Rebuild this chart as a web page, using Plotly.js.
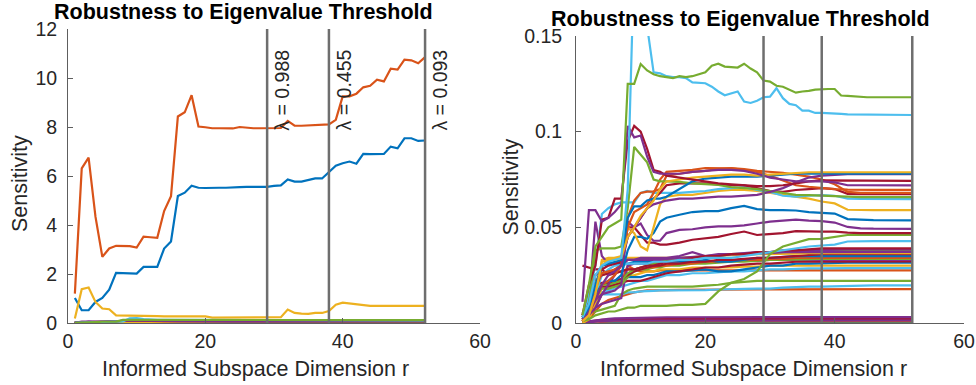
<!DOCTYPE html>
<html>
<head>
<meta charset="utf-8">
<script src="https://cdn.plot.ly/plotly-3.0.1.min.js"></script>
<style>html,body{margin:0;padding:0;background:#fff;}#chart{width:976px;height:385px;}</style>
</head>
<body>
<div id="chart"></div>
<script>
// ---------------- DATA ----------------
const chartTitle = "Robustness to Eigenvalue Threshold";
const xLabel = "Informed Subspace Dimension r";
const yLabel = "Sensitivity";
const thresholds = [29, 38, 52];
const lambdaLabels = ["λ = 0.988", "λ = 0.455", "λ = 0.093"];

// full grid of subspace dimensions
const r = [1,2,3,4,5,6,7,8,9,10,11,12,13,14,15,16,17,18,19,20,21,22,23,24,25,26,27,28,29,30,31,32,33,34,35,36,37,38,39,40,41,42,43,44,45,46,47,48,49,50,51,52];
// sparse grid used for the many small sensitivities
const rs = [1,2,3,4,5,6,7,8,9,10,11,12,13,14,16,18,20,22,24,26,28,30,32,34,36,38,40,42,44,46,52];

// large sensitivities (full grid)
const bigBlue = [1.02,0.52,0.52,0.86,1.02,1.36,2.05,2.05,2.05,2.02, 2.29,2.29,2.29,3.04,3.33,5.18,5.32,5.60,5.52,5.51, 5.50,5.52,5.52,5.52,5.55,5.56,5.56,5.56,5.56,5.60, 5.62,5.86,5.77,5.77,5.84,5.90,5.90,6.18,6.42,6.52, 6.59,6.50,6.90,6.89,6.90,6.90,7.20,7.13,7.54,7.54, 7.43,7.45];
const bigOrange = [1.20,6.31,6.75,4.34,2.70,3.04,3.15,3.15,3.14,3.08, 3.52,3.50,3.48,4.57,5.18,8.43,8.60,9.30,8.02,7.99, 7.95,7.95,7.94,7.94,8.00,7.96,7.95,7.95,7.95,7.95, 7.96,8.25,8.05,8.05,8.06,8.07,8.11,8.11,8.29,9.25, 9.25,9.36,9.62,9.68,9.93,9.86,10.38,10.34,10.75,10.72, 10.60,10.85];
const bigYellow = [0.18,1.38,1.45,0.86,0.59,0.56,0.31,0.31,0.30,0.30, 0.29,0.29,0.28,0.27,0.27,0.27,0.27,0.26,0.27,0.27, 0.22,0.22,0.22,0.22,0.23,0.24,0.24,0.25,0.25,0.24, 0.24,0.55,0.41,0.38,0.37,0.41,0.41,0.49,0.75,0.83, 0.79,0.76,0.72,0.70,0.70,0.70,0.71,0.71,0.70,0.70, 0.70,0.70];
const topGreen = [0.004,0.020,0.040,0.045,0.050,0.052,0.054,0.125,0.125,0.1354, 0.132,0.130,0.129,0.1285,0.128,0.129,0.1285,0.129,0.130,0.131, 0.1345,0.1355,0.134,0.1337,0.1335,0.1355,0.133,0.131,0.1267,0.1262, 0.124,0.1235,0.122,0.1204,0.121,0.1213,0.122,0.1223,0.1223,0.1223, 0.1189,0.1187,0.1184,0.1182,0.118,0.118,0.118,0.118,0.118,0.118, 0.118,0.118];
const topCyan = [0.003,0.010,0.025,0.030,0.032,0.033,0.034,0.070,0.190,0.200, 0.155,0.131,0.1305,0.129,0.1285,0.1285,0.128,0.1258,0.1255,0.1253, 0.1235,0.121,0.119,0.120,0.121,0.1157,0.115,0.1162,0.118,0.1183, 0.1227,0.1175,0.1145,0.1138,0.111,0.111,0.1098,0.1098,0.1097,0.1095, 0.1093,0.109,0.109,0.1088,0.1088,0.1088,0.1088,0.1088,0.1088,0.1087, 0.1087,0.1087];

// small sensitivities (sparse grid rs)
const pA = [0.011,0.059,0.059,0.053,0.055,0.058,0.062,0.103,0.097,0.098,0.087,0.079,0.078,0.078, 0.078,0.079,0.0795,0.080,0.080,0.0795,0.078,0.076,0.075,0.074,0.074,0.074,0.0735,0.072,0.072,0.072,0.0719];
const rA = [0.004,0.020,0.030,0.054,0.055,0.065,0.065,0.095,0.103,0.100,0.091,0.080,0.079,0.077, 0.076,0.075,0.074,0.073,0.0725,0.072,0.0715,0.0715,0.072,0.073,0.074,0.0745,0.0745,0.0743,0.0743,0.0743,0.0743];
const gB = [0.003,0.010,0.038,0.039,0.039,0.039,0.040,0.060,0.092,0.088,0.084,0.075,0.074,0.074, 0.0738,0.073,0.0725,0.0722,0.071,0.0705,0.070,0.069,0.068,0.067,0.0668,0.0665,0.0665,0.066,0.0658,0.0658,0.0658];
const cB = [0.002,0.015,0.030,0.057,0.060,0.062,0.063,0.063,0.063,0.068,0.069,0.068,0.068,0.068, 0.068,0.0685,0.069,0.070,0.0705,0.071,0.0695,0.0685,0.0665,0.066,0.0665,0.0668,0.0665,0.065,0.0648,0.0647,0.0647];
const oA = [0.001,0.005,0.012,0.020,0.022,0.025,0.030,0.055,0.064,0.068,0.0687,0.0688,0.070,0.077, 0.078,0.079,0.0795,0.0805,0.081,0.0805,0.0795,0.079,0.0785,0.0775,0.0765,0.075,0.0725,0.0685,0.068,0.068,0.068];
const oB = [0.002,0.008,0.018,0.026,0.027,0.028,0.030,0.050,0.058,0.060,0.062,0.068,0.075,0.079, 0.0795,0.080,0.081,0.081,0.0808,0.080,0.079,0.077,0.0745,0.072,0.0712,0.0705,0.070,0.0697,0.0696,0.0696,0.0696];
const yA = [0.001,0.004,0.015,0.032,0.033,0.033,0.034,0.045,0.050,0.056,0.060,0.064,0.070,0.074, 0.075,0.076,0.0765,0.077,0.0775,0.0775,0.077,0.0775,0.078,0.0785,0.0788,0.0788,0.0788,0.079,0.079,0.0788,0.0788];
const bT = [0.003,0.008,0.020,0.030,0.031,0.032,0.033,0.055,0.061,0.061,0.064,0.065,0.065,0.066, 0.070,0.074,0.0755,0.076,0.0765,0.0765,0.0765,0.077,0.0775,0.078,0.078,0.078,0.078,0.078,0.078,0.078,0.078];
const rB = [0.001,0.010,0.025,0.028,0.030,0.031,0.032,0.045,0.050,0.055,0.060,0.065,0.068,0.072, 0.073,0.073,0.073,0.0725,0.072,0.072,0.0705,0.069,0.0685,0.0695,0.070,0.0705,0.070,0.0675,0.0673,0.0673,0.0673];
const pD = [0.002,0.006,0.012,0.020,0.025,0.027,0.030,0.045,0.050,0.055,0.060,0.062,0.063,0.064, 0.065,0.065,0.0655,0.066,0.066,0.0665,0.067,0.0685,0.0705,0.0735,0.076,0.077,0.0775,0.0778,0.0778,0.0778,0.0778];
const yB = [0.001,0.005,0.020,0.030,0.033,0.034,0.035,0.050,0.047,0.040,0.038,0.050,0.062,0.066, 0.067,0.067,0.068,0.069,0.0695,0.0695,0.069,0.068,0.067,0.066,0.065,0.0635,0.0625,0.0592,0.059,0.059,0.059];
const bB = [0.002,0.005,0.015,0.020,0.022,0.022,0.025,0.038,0.045,0.045,0.044,0.047,0.053,0.055, 0.0566,0.058,0.0585,0.0585,0.060,0.0612,0.0595,0.059,0.059,0.0588,0.058,0.0575,0.0572,0.0543,0.054,0.0538,0.0536];
const pC = [0.003,0.008,0.012,0.015,0.016,0.017,0.020,0.053,0.050,0.052,0.046,0.043,0.043,0.047, 0.0487,0.049,0.050,0.0505,0.0505,0.051,0.052,0.053,0.0535,0.054,0.0535,0.0532,0.0525,0.0502,0.0495,0.0493,0.0492];
const rC = [0.004,0.015,0.022,0.025,0.026,0.028,0.030,0.050,0.050,0.046,0.042,0.042,0.041,0.041, 0.042,0.0435,0.0444,0.045,0.0465,0.0478,0.046,0.0465,0.047,0.048,0.0478,0.0478,0.0478,0.0472,0.047,0.047,0.047];
const gD = [0.001,0.002,0.004,0.005,0.006,0.006,0.007,0.008,0.008,0.009,0.009,0.009,0.009,0.009, 0.0095,0.0095,0.010,0.0165,0.021,0.023,0.027,0.036,0.040,0.042,0.0438,0.044,0.045,0.046,0.046,0.046,0.046];
const cC = [0.002,0.005,0.015,0.025,0.028,0.030,0.030,0.031,0.031,0.031,0.031,0.032,0.032,0.032, 0.033,0.033,0.034,0.034,0.034,0.035,0.036,0.037,0.038,0.039,0.040,0.0405,0.041,0.0426,0.0428,0.0428,0.0428];
const k1 = [0.030,0.029,0.028,0.028,0.025,0.026,0.027,0.028,0.028,0.029,0.030,0.030,0.031,0.032, 0.033,0.034,0.035,0.035,0.036,0.036,0.037,0.037,0.038,0.038,0.0385,0.039,0.039,0.039,0.039,0.039,0.039];
const k2 = [0.001,0.004,0.008,0.015,0.020,0.025,0.030,0.033,0.033,0.034,0.034,0.034,0.034,0.034, 0.035,0.037,0.035,0.036,0.036,0.0365,0.037,0.037,0.0375,0.038,0.038,0.0382,0.0385,0.0385,0.0385,0.0385,0.0385];
const k3 = [0.005,0.010,0.053,0.035,0.031,0.031,0.032,0.033,0.033,0.033,0.033,0.033,0.033,0.0335, 0.034,0.0345,0.035,0.0355,0.036,0.036,0.0365,0.0365,0.037,0.037,0.037,0.037,0.0372,0.0372,0.0372,0.0372,0.0372];
const k4 = [0.002,0.006,0.018,0.020,0.020,0.021,0.022,0.026,0.028,0.029,0.030,0.031,0.032,0.033, 0.034,0.034,0.035,0.035,0.036,0.0362,0.0365,0.037,0.037,0.0375,0.0378,0.038,0.038,0.038,0.038,0.038,0.038];
const k5 = [0.000,0.002,0.010,0.033,0.034,0.034,0.034,0.034,0.034,0.034,0.034,0.034,0.034,0.034, 0.034,0.0345,0.035,0.0352,0.0355,0.0355,0.036,0.036,0.036,0.0362,0.0365,0.0365,0.0365,0.0365,0.0365,0.0365,0.0365];
const k6 = [0.003,0.012,0.020,0.021,0.021,0.022,0.023,0.025,0.027,0.028,0.029,0.030,0.030,0.031, 0.031,0.032,0.032,0.033,0.033,0.0335,0.034,0.034,0.0345,0.035,0.0355,0.036,0.036,0.036,0.036,0.036,0.036];
const k7 = [0.001,0.003,0.010,0.030,0.031,0.031,0.031,0.031,0.032,0.032,0.032,0.032,0.032,0.032, 0.032,0.032,0.033,0.032,0.032,0.033,0.034,0.034,0.0345,0.035,0.035,0.035,0.035,0.035,0.035,0.035,0.035];
const k8 = [0.002,0.008,0.020,0.025,0.026,0.026,0.027,0.028,0.028,0.029,0.029,0.029,0.030,0.030, 0.031,0.031,0.032,0.032,0.0325,0.033,0.033,0.0335,0.0335,0.034,0.034,0.034,0.034,0.034,0.034,0.034,0.034];
const k9 = [0.005,0.008,0.015,0.018,0.018,0.019,0.020,0.024,0.027,0.028,0.028,0.029,0.029,0.030, 0.030,0.031,0.031,0.0315,0.032,0.032,0.0325,0.033,0.033,0.0333,0.0335,0.0335,0.0335,0.0335,0.0335,0.0335,0.0335];
const k10 = [0.002,0.004,0.008,0.010,0.011,0.012,0.013,0.030,0.031,0.031,0.031,0.031,0.032,0.032, 0.032,0.032,0.032,0.0322,0.0325,0.0325,0.0325,0.033,0.033,0.033,0.033,0.033,0.033,0.033,0.033,0.033,0.033];
const k11 = [0.004,0.009,0.015,0.019,0.019,0.020,0.021,0.022,0.022,0.022,0.023,0.024,0.025,0.026, 0.027,0.028,0.029,0.029,0.030,0.0305,0.031,0.031,0.0315,0.032,0.032,0.032,0.0322,0.0322,0.0322,0.0322,0.0322];
const k12 = [0.001,0.004,0.012,0.020,0.022,0.022,0.023,0.024,0.024,0.024,0.025,0.025,0.026,0.027, 0.027,0.0275,0.028,0.027,0.027,0.028,0.029,0.030,0.030,0.031,0.031,0.0312,0.0315,0.0315,0.0315,0.0315,0.0315];
const k13 = [0.001,0.003,0.010,0.018,0.020,0.021,0.022,0.024,0.025,0.026,0.027,0.027,0.028,0.028, 0.028,0.029,0.029,0.029,0.029,0.0295,0.0295,0.030,0.030,0.030,0.030,0.030,0.030,0.030,0.030,0.030,0.030];
const k14 = [0.002,0.006,0.012,0.016,0.017,0.018,0.019,0.020,0.021,0.022,0.022,0.023,0.024,0.025, 0.025,0.026,0.026,0.0265,0.027,0.027,0.0275,0.028,0.028,0.0283,0.0285,0.0285,0.0287,0.0287,0.0287,0.0287,0.0287];
const k15 = [0.000,0.002,0.008,0.015,0.018,0.020,0.021,0.030,0.028,0.027,0.027,0.027,0.0275,0.0275, 0.0275,0.0275,0.0275,0.0275,0.0275,0.0275,0.0275,0.0275,0.0275,0.0275,0.0275,0.0275,0.0275,0.0275,0.0275,0.0275,0.0275];
const gE = [0.002,0.004,0.006,0.007,0.008,0.009,0.015,0.017,0.018,0.0185,0.019,0.019,0.019,0.019, 0.019,0.019,0.0195,0.020,0.021,0.0215,0.022,0.022,0.022,0.022,0.022,0.022,0.022,0.022,0.022,0.022,0.022];
const cD = [0.001,0.003,0.008,0.015,0.015,0.015,0.015,0.016,0.016,0.0165,0.0165,0.0168,0.017,0.017, 0.017,0.0172,0.0172,0.0175,0.0175,0.0178,0.018,0.018,0.0185,0.0188,0.019,0.019,0.0192,0.0195,0.0197,0.0197,0.0197];
const oD = [0.000,0.002,0.006,0.010,0.012,0.013,0.014,0.015,0.016,0.0165,0.017,0.017,0.0172,0.0172, 0.0173,0.0174,0.0175,0.0175,0.0175,0.0175,0.0176,0.0176,0.0176,0.0177,0.0177,0.0177,0.0177,0.0177,0.0177,0.0177,0.0177];
const z1 = [0.0005,0.001,0.0015,0.002,0.0022,0.0024,0.0025,0.0026,0.0027,0.0028,0.0028,0.0029,0.0029,0.003, 0.003,0.003,0.003,0.0031,0.0031,0.0031,0.0031,0.0031,0.0031,0.0031,0.0031,0.0031,0.0031,0.0031,0.0031,0.0031,0.0031];
const z2 = [0.0003,0.0008,0.0012,0.0016,0.0018,0.0019,0.002,0.002,0.002,0.0021,0.0021,0.0021,0.0021,0.0022, 0.0022,0.0022,0.0022,0.0022,0.0022,0.0022,0.0022,0.0022,0.0022,0.0022,0.0022,0.0022,0.0022,0.0022,0.0022,0.0022,0.0022];
const z3 = [0.0,0.0,0.0002,0.0015,0.0015,0.0015,0.0015,0.0016,0.0016,0.0016,0.0016,0.0016,0.0016,0.0016, 0.0016,0.0016,0.0016,0.0016,0.0016,0.0016,0.0016,0.0016,0.0016,0.0016,0.0016,0.0016,0.0016,0.0016,0.0016,0.0016,0.0016];
const z4 = [0.0,0.0003,0.0006,0.0008,0.0009,0.001,0.001,0.001,0.001,0.001,0.001,0.001,0.001,0.001, 0.001,0.001,0.001,0.001,0.001,0.001,0.001,0.001,0.001,0.001,0.001,0.001,0.001,0.001,0.001,0.001,0.001];
const z5 = [0.0001,0.0003,0.0005,0.0006,0.0007,0.0007,0.0008,0.0008,0.0008,0.0008,0.0008,0.0008,0.0008,0.0008, 0.0008,0.0008,0.0008,0.0008,0.0008,0.0008,0.0008,0.0008,0.0008,0.0008,0.0008,0.0008,0.0008,0.0008,0.0008,0.0008,0.0008];
const z6 = [0.0,0.0001,0.0003,0.0004,0.0005,0.0005,0.0005,0.0005,0.0005,0.0005,0.0005,0.0005,0.0005,0.0005, 0.0005,0.0005,0.0005,0.0005,0.0005,0.0005,0.0005,0.0005,0.0005,0.0005,0.0005,0.0005,0.0005,0.0005,0.0005,0.0005,0.0005];
const z7 = [0.0,0.0001,0.0002,0.0003,0.0003,0.0003,0.0003,0.0003,0.0003,0.0003,0.0003,0.0003,0.0003,0.0003, 0.0003,0.0003,0.0003,0.0003,0.0003,0.0003,0.0003,0.0003,0.0003,0.0003,0.0003,0.0003,0.0003,0.0003,0.0003,0.0003,0.0003];
const z8 = [0.0002,0.0005,0.0008,0.001,0.0011,0.0012,0.0012,0.0012,0.0012,0.0012,0.0012,0.0012,0.0012,0.0012, 0.0012,0.0012,0.0012,0.0012,0.0012,0.0012,0.0013,0.0013,0.0013,0.0013,0.0013,0.0013,0.0013,0.0013,0.0013,0.0013,0.0013];

// ---------------- STYLE ----------------
const pal = {B:'#0072BD', O:'#D95319', Y:'#EDB120', P:'#7E2F8E', G:'#77AC30', C:'#4DBEEE', R:'#A2142F'};
const fullSeries = [[bigBlue,'B'],[bigOrange,'O'],[bigYellow,'Y']];
const smallSeries = [
  [z7,'C'],[z6,'G'],[z5,'B'],[z4,'O'],[z3,'Y'],[z2,'R'],[z8,'P'],[z1,'P'],
  [oD,'O'],[cD,'C'],[gE,'G'],
  [k15,'O'],[k14,'C'],[k13,'Y'],[k12,'B'],[k11,'R'],[k10,'P'],[k9,'G'],[k8,'O'],[k7,'B'],[k6,'R'],[k5,'Y'],[k4,'G'],[k3,'P'],[k2,'P'],[k1,'R'],
  [cC,'C'],[gD,'G'],[rC,'R'],[pC,'P'],[bB,'B'],[yB,'Y'],[cB,'C'],[rB,'R'],[oA,'O'],[oB,'O'],[gB,'G'],[pD,'P'],[bT,'B'],[yA,'Y'],[rA,'R'],[pA,'P']
];
const fullSmall = [[topCyan,'C'],[topGreen,'G']];

const LW = 2.2;
const traces = [];
['1','2'].forEach(function(k){
  const xa = k==='1' ? 'x' : 'x2', ya = k==='1' ? 'y' : 'y2';
  fullSeries.forEach(function(s){ traces.push({x:r, y:s[0], type:'scatter', mode:'lines', xaxis:xa, yaxis:ya, line:{color:pal[s[1]], width:LW}, hoverinfo:'skip'}); });
  smallSeries.forEach(function(s){ traces.push({x:rs, y:s[0], type:'scatter', mode:'lines', xaxis:xa, yaxis:ya, line:{color:pal[s[1]], width:LW}, hoverinfo:'skip'}); });
  fullSmall.forEach(function(s){ traces.push({x:r, y:s[0], type:'scatter', mode:'lines', xaxis:xa, yaxis:ya, line:{color:pal[s[1]], width:LW}, hoverinfo:'skip'}); });
});

const axisLine = '#5e5e5e';
const txt = '#262626';
const FONT = 'Liberation Sans, Arial, Helvetica, sans-serif';
function xax(dom, anchor){ return {domain:dom, anchor:anchor, range:[0,60], tickvals:[0,20,40,60], ticks:'inside', ticklen:5, tickwidth:1, tickcolor:axisLine, showline:true, linecolor:axisLine, linewidth:1, showgrid:false, zeroline:false, tickfont:{size:19.5, color:txt, family:FONT}, ticklabelstandoff:1, ticklabeloverflow:'allow', fixedrange:true}; }
function yax(dom, anchor, rng, dt, so){ return {domain:dom, anchor:anchor, range:rng, dtick:dt, tick0:0, ticks:'inside', ticklen:5, tickwidth:1, tickcolor:axisLine, showline:true, linecolor:axisLine, linewidth:1, showgrid:false, zeroline:false, tickfont:{size:19.5, color:txt, family:FONT}, ticklabelstandoff:so, ticklabeloverflow:'allow', fixedrange:true}; }

const shapes = [];
thresholds.forEach(function(t){
  shapes.push({type:'line', xref:'x', yref:'y domain', x0:t, x1:t, y0:0, y1:1, line:{color:'#6e6e6e', width:2.5}});
  shapes.push({type:'line', xref:'x2', yref:'y2 domain', x0:t, x1:t, y0:0, y1:1, line:{color:'#6e6e6e', width:2.5}});
});

const annotations = [
  {text:'<b>'+chartTitle+'</b>', xref:'paper', yref:'paper', x:243/976, y:1-12/385, xanchor:'center', yanchor:'middle', showarrow:false, font:{size:21.5, color:'#000', family:FONT}},
  {text:'<b>'+chartTitle+'</b>', xref:'paper', yref:'paper', x:740/976, y:1-19/385, xanchor:'center', yanchor:'middle', showarrow:false, font:{size:21.5, color:'#000', family:FONT}},
  {text:yLabel, xref:'paper', yref:'paper', x:20/976, y:1-184/385, xanchor:'center', yanchor:'middle', textangle:-90, showarrow:false, font:{size:21.5, color:txt, family:FONT}},
  {text:yLabel, xref:'paper', yref:'paper', x:510/976, y:1-187.5/385, xanchor:'center', yanchor:'middle', textangle:-90, showarrow:false, font:{size:21.5, color:txt, family:FONT}},
  {text:xLabel, xref:'paper', yref:'paper', x:255/976, y:1-369/385, xanchor:'center', yanchor:'middle', showarrow:false, font:{size:21.5, color:txt, family:FONT}},
  {text:xLabel, xref:'paper', yref:'paper', x:753/976, y:1-369/385, xanchor:'center', yanchor:'middle', showarrow:false, font:{size:21.5, color:txt, family:FONT}}
];
thresholds.forEach(function(t, i){
  annotations.push({text:lambdaLabels[i], xref:'x', yref:'y', x:t+2.2, y:7.8, xanchor:'center', yanchor:'bottom', textangle:-90, showarrow:false, borderpad:0, font:{size:19.5, color:txt, family:FONT}});
});

const layout = {
  width:976, height:385, margin:{l:0, r:0, t:0, b:0},
  paper_bgcolor:'#fff', plot_bgcolor:'#fff', showlegend:false,
  font:{family:FONT, color:txt},
  xaxis: xax([68/976, 480/976], 'y'),
  yaxis: yax([62/385, 356/385], 'x', [0,12], 2, 6),
  xaxis2: xax([576/976, 964/976], 'y2'),
  yaxis2: yax([62/385, 349/385], 'x2', [0,0.15], 0.05, 9),
  shapes: shapes, annotations: annotations
};
Plotly.newPlot('chart', traces, layout, {staticPlot:true, displayModeBar:false});
</script>
</body>
</html>
